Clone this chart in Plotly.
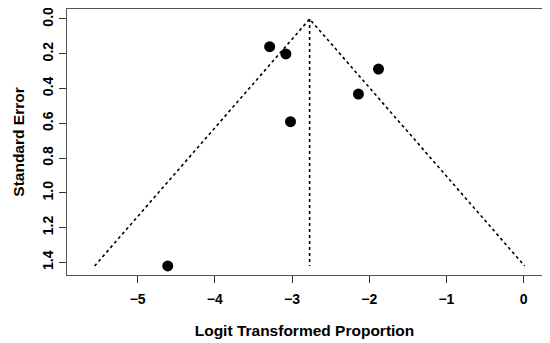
import plotly.graph_objects as go

# Study estimates (logit proportion) and standard errors
logit_prop = [-3.29, -3.08, -1.88, -2.14, -3.02, -4.61]
std_err = [0.159, 0.201, 0.288, 0.432, 0.591, 1.421]
pooled = -2.772
se_max = 1.421
z = 1.96

x_ticks = [-5, -4, -3, -2, -1, 0]
y_ticks = [0.0, 0.2, 0.4, 0.6, 0.8, 1.0, 1.2, 1.4]
y_tick_text = ["0.0", "0.2", "0.4", "0.6", "0.8", "1.0", "1.2", "1.4"]

fig = go.Figure()

# funnel lines
fig.add_trace(go.Scatter(
    x=[pooled - z * se_max, pooled, pooled + z * se_max],
    y=[se_max, 0, se_max],
    mode="lines", line=dict(color="black", width=1.6, dash="dot"),
    hoverinfo="skip", showlegend=False))
fig.add_trace(go.Scatter(
    x=[pooled, pooled], y=[0, se_max],
    mode="lines", line=dict(color="black", width=1.6, dash="dot"),
    hoverinfo="skip", showlegend=False))

fig.add_trace(go.Scatter(
    x=logit_prop, y=std_err, mode="markers",
    marker=dict(color="black", size=11),
    showlegend=False))

font_family = "Liberation Sans, Arial, Helvetica, sans-serif"
# page body has an 8px default margin, so figure is sized to fit the window
fig.update_layout(
    width=542, height=335,
    margin=dict(l=59, r=8, t=1, b=68),
    plot_bgcolor="white", paper_bgcolor="white",
    font=dict(family=font_family, color="black"),
)
fig.update_xaxes(
    range=[-5.915, 0.238], tickvals=x_ticks, automargin=False,
    ticks="outside", ticklen=7, tickwidth=1, tickcolor="#333",
    showline=True, linecolor="#555", linewidth=1, mirror=True,
    showgrid=False, zeroline=False, ticklabelstandoff=4,
    ticklabeloverflow="allow",
    tickfont=dict(size=14, family=font_family, weight="bold"),
    title=dict(text="<b>Logit Transformed Proportion</b>", font=dict(size=15.5), standoff=19),
)
fig.update_yaxes(
    range=[1.473, -0.0575], tickvals=y_ticks, ticktext=y_tick_text,
    tickangle=-90, automargin=False,
    ticks="outside", ticklen=7, tickwidth=1, tickcolor="#333",
    showline=True, linecolor="#555", linewidth=1, mirror=True,
    showgrid=False, zeroline=False, ticklabelstandoff=0,
    ticklabeloverflow="allow",
    tickfont=dict(size=14, family=font_family, weight="bold"),
    title=dict(text="<b>Standard Error</b>", font=dict(size=15.5), standoff=11),
)

fig.write_html("out.html")
